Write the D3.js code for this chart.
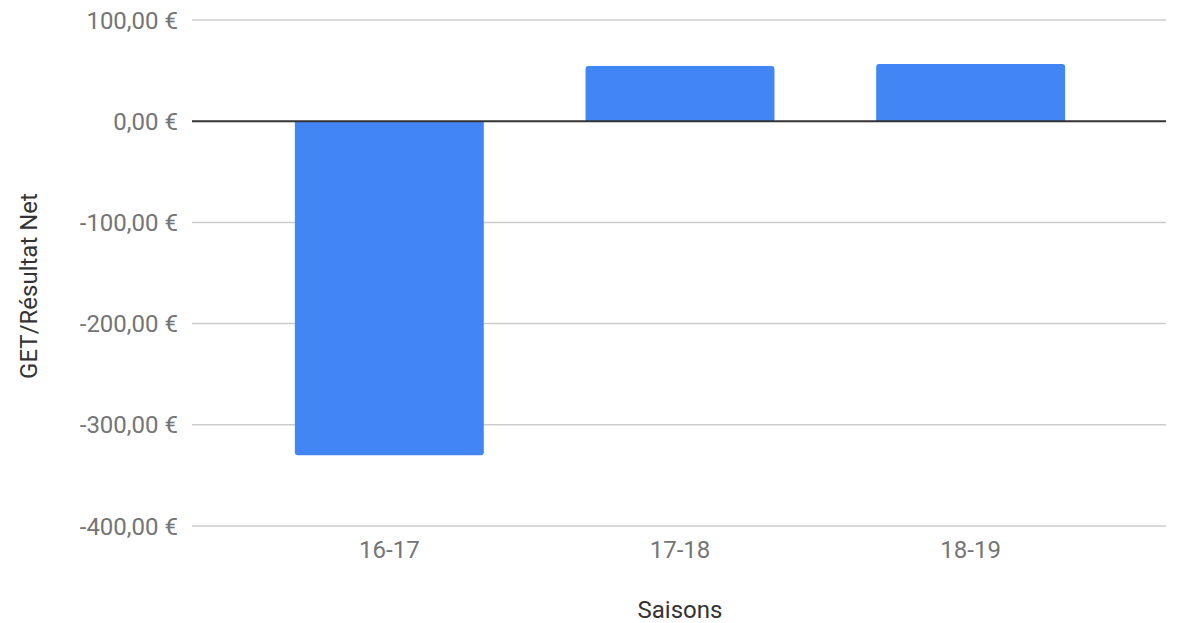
<!DOCTYPE html>
<html>
<head>
<meta charset="utf-8">
<script src="https://cdn.jsdelivr.net/npm/d3@7/dist/d3.min.js"></script>
<style>
    html, body { margin: 0; padding: 0; background: #fff; }
    svg { display: block; font-family: Roboto, "Noto Sans", sans-serif; }
</style>
</head>
<body>
<svg id="chart" width="1178" height="623"></svg>
<script>
// Data
var seasons = ['16-17', '17-18', '18-19'];
var netResults = [-330, 54.5, 56.5];
var yTicks = [100, 0, -100, -200, -300, -400];
var xTitle = 'Saisons';
var yTitle = 'GET/Résultat Net';

var svg = d3.select('#chart');

// Plot area (window.top is read-only, so no "top" here)
var plotLeft = 192, plotRight = 1166, plotTop = 20, plotBottom = 526;

var y = d3.scaleLinear()
    .domain([-400, 100])
    .range([plotBottom, plotTop]);

var x = d3.scaleBand()
    .domain(seasons)
    .range([244, 1116])
    .paddingInner(0.35)
    .paddingOuter(0.175);

// French style: comma decimals, plain hyphen for negatives
var euro = function (v) {
    return d3.format(',.2f')(v)
        .replace(/,/g, ' ')
        .replace('.', ',')
        .replace('\u2212', '-') + ' \u20ac';
};

// Gridlines
svg.append('g')
    .selectAll('line')
    .data(yTicks.filter(function (d) { return d !== 0; }))
    .enter()
    .append('line')
    .attr('x1', plotLeft)
    .attr('x2', plotRight)
    .attr('y1', function (d) { return y(d); })
    .attr('y2', function (d) { return y(d); })
    .attr('stroke', '#cccccc')
    .attr('stroke-width', 1.5);

// Y tick labels
svg.append('g')
    .selectAll('text')
    .data(yTicks)
    .enter()
    .append('text')
    .attr('x', 178)
    .attr('y', function (d) { return y(d); })
    .attr('dy', '0.36em')
    .attr('text-anchor', 'end')
    .attr('font-size', 24)
    .attr('fill', '#757575')
    .text(euro);

// Bars, rounded on the end away from zero
var r = 3;
var barPath = function (d, i) {
    var x0 = x(seasons[i]), w = x.bandwidth();
    var y0 = y(0), y1 = y(d);
    var s = y1 < y0 ? 1 : -1;
    return 'M' + x0 + ',' + y0 +
        'L' + x0 + ',' + (y1 + s * r) +
        'Q' + x0 + ',' + y1 + ',' + (x0 + r) + ',' + y1 +
        'L' + (x0 + w - r) + ',' + y1 +
        'Q' + (x0 + w) + ',' + y1 + ',' + (x0 + w) + ',' + (y1 + s * r) +
        'L' + (x0 + w) + ',' + y0 + 'Z';
};

svg.append('g')
    .selectAll('path')
    .data(netResults)
    .enter()
    .append('path')
    .attr('d', barPath)
    .attr('fill', '#4285f4');

// Zero baseline
svg.append('line')
    .attr('x1', plotLeft)
    .attr('x2', plotRight)
    .attr('y1', y(0))
    .attr('y2', y(0))
    .attr('stroke', '#333333')
    .attr('stroke-width', 2);

// X axis labels
svg.append('g')
    .selectAll('text')
    .data(seasons)
    .enter()
    .append('text')
    .attr('x', function (d) { return x(d) + x.bandwidth() / 2; })
    .attr('y', 558)
    .attr('text-anchor', 'middle')
    .attr('font-size', 24)
    .attr('fill', '#757575')
    .text(function (d) { return d; });

// Axis titles
svg.append('text')
    .attr('x', 680)
    .attr('y', 618)
    .attr('text-anchor', 'middle')
    .attr('font-size', 24)
    .attr('fill', '#333333')
    .text(xTitle);

svg.append('text')
    .attr('transform', 'translate(37,286) rotate(-90)')
    .attr('text-anchor', 'middle')
    .attr('font-size', 24)
    .attr('fill', '#333333')
    .text(yTitle);
</script>
</body>
</html>
